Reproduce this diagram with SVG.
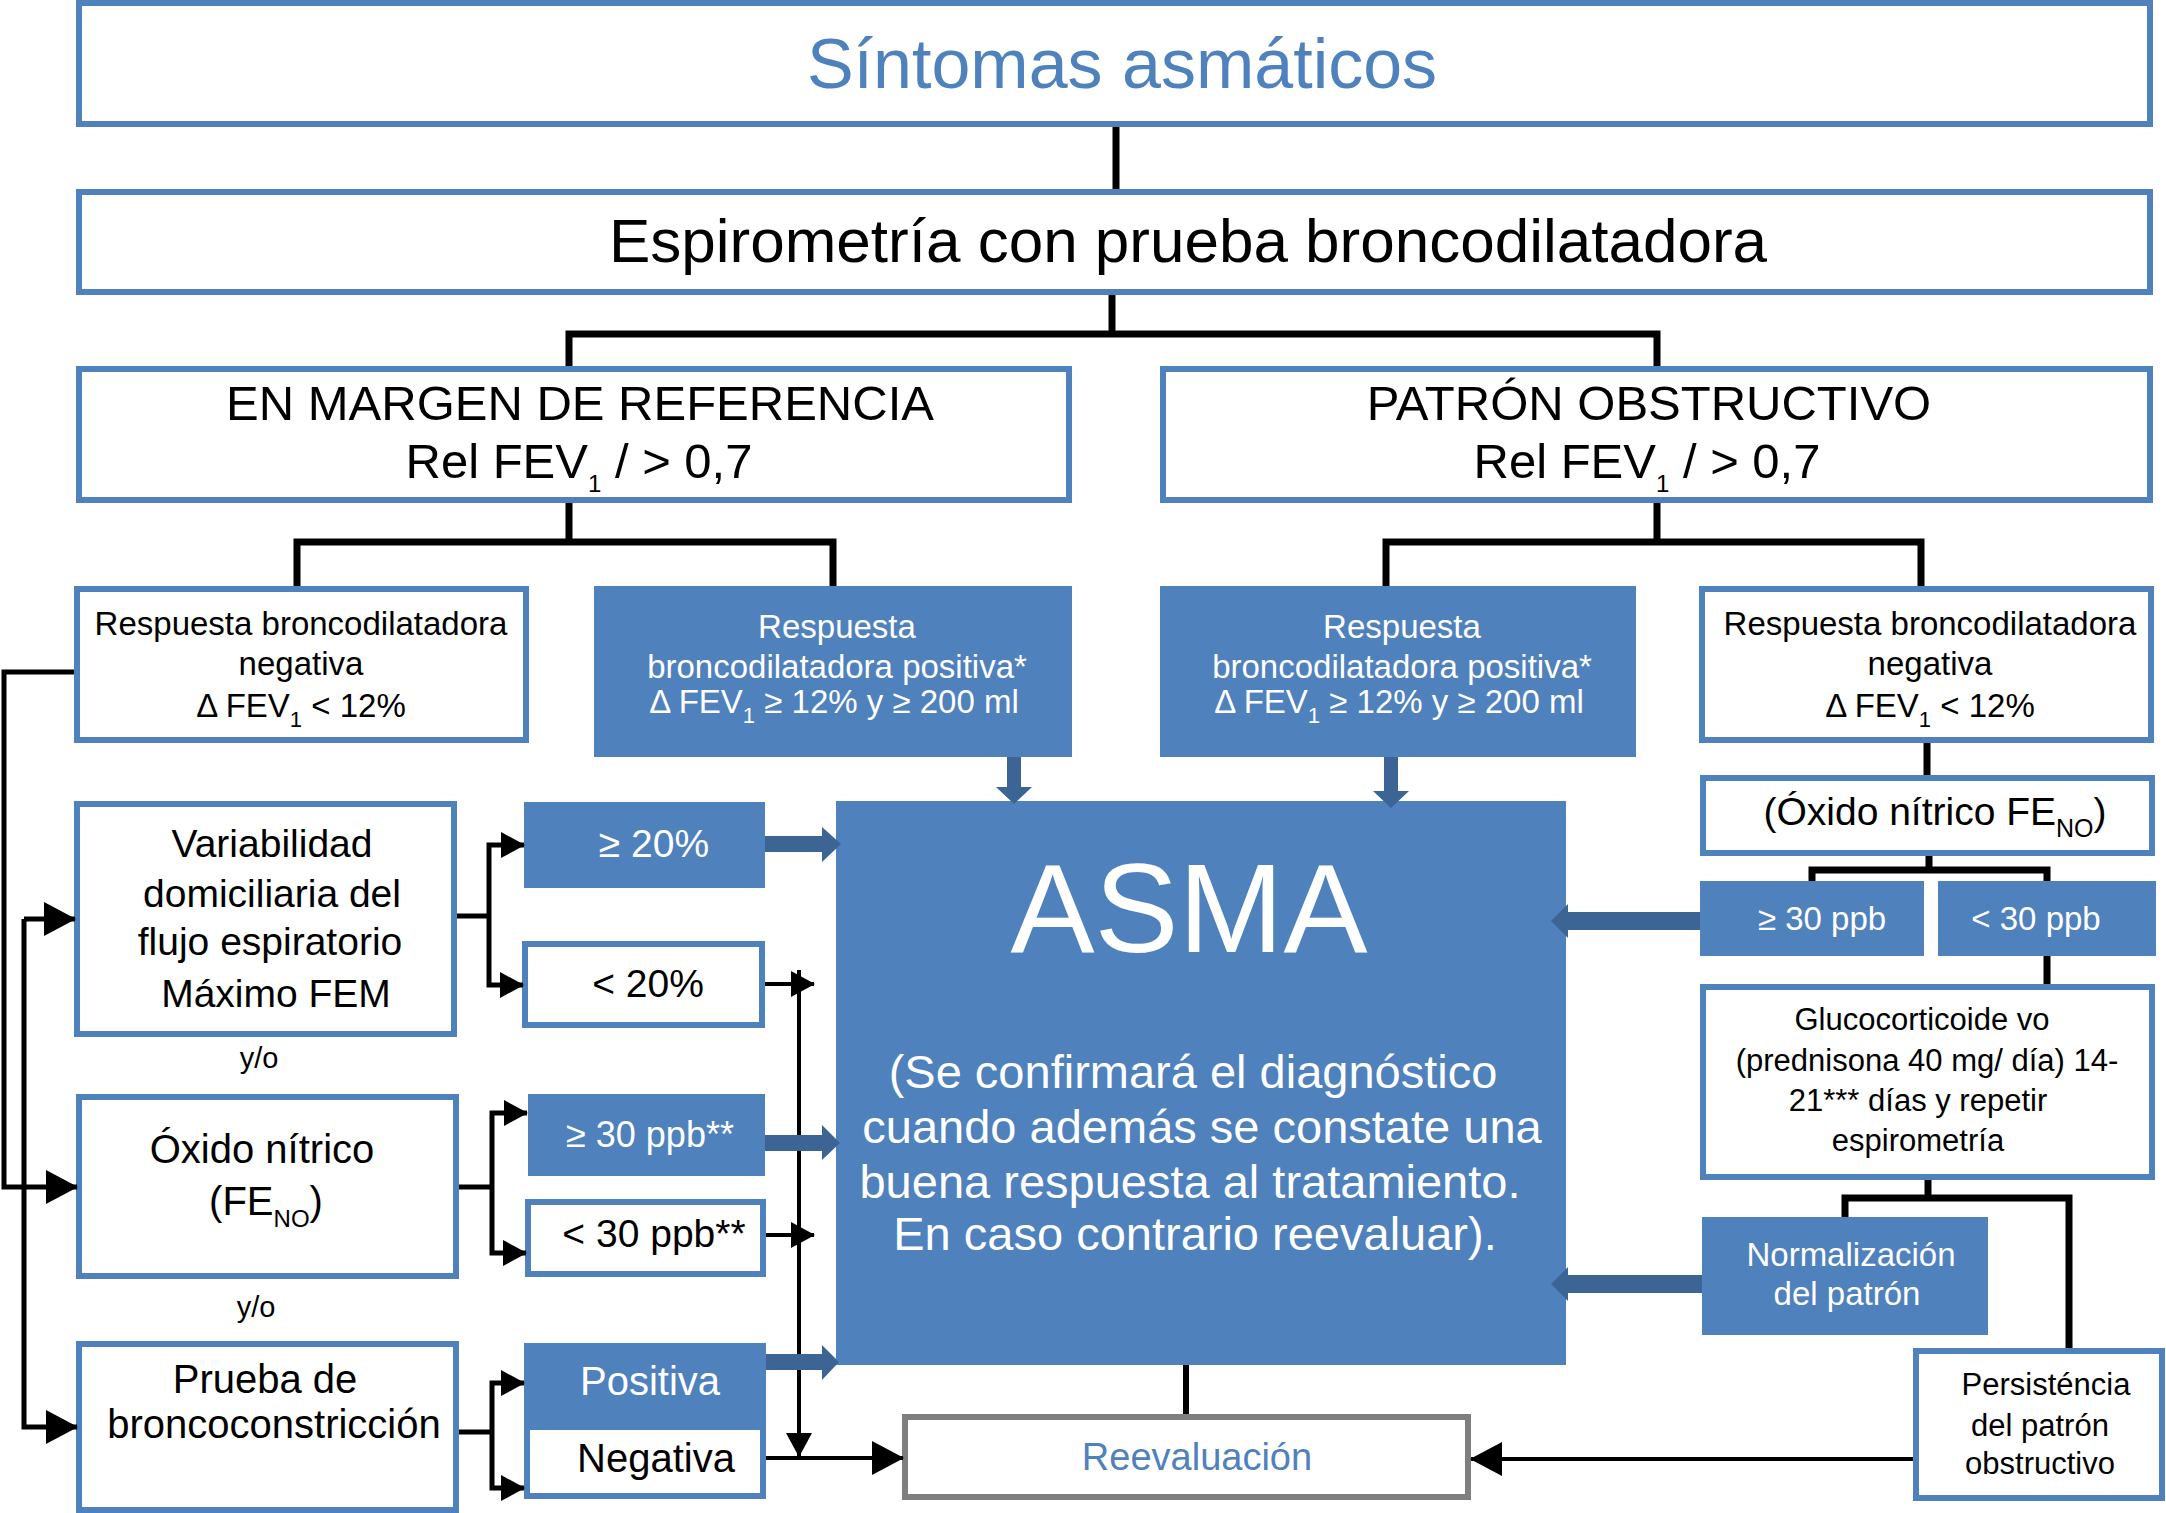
<svg xmlns="http://www.w3.org/2000/svg" width="2166" height="1513" viewBox="0 0 2166 1513">
<defs>
<style>
.bx{fill:#fff;stroke:#4f81bd;stroke-width:6}
.fb{fill:#4f81bd}
.gb{fill:#fff;stroke:#7f7f7f;stroke-width:6}
.t{font-family:"Liberation Sans",Arial,Helvetica,sans-serif;text-anchor:middle}
.k{fill:#000}
.w{fill:#fff}
.b{fill:#4f81bd}
.tree{fill:none;stroke:#000;stroke-width:7}
.ln{fill:none;stroke:#000;stroke-width:5}
.sl{fill:none;stroke:#000;stroke-width:4}
.ba{fill:#3c6494}
</style>
<marker id="ah" markerUnits="userSpaceOnUse" markerWidth="32" markerHeight="34" viewBox="0 0 32 34" refX="31" refY="17" orient="auto"><path d="M0,0L32,17L0,34z" fill="#000"/></marker>
<marker id="as" markerUnits="userSpaceOnUse" markerWidth="24" markerHeight="26" viewBox="0 0 24 26" refX="23" refY="13" orient="auto"><path d="M0,0L24,13L0,26z" fill="#000"/></marker>
</defs>
<rect width="2166" height="1513" fill="#fff"/>

<g id="n-sintomas"><rect class="bx" x="79" y="3" width="2071" height="121"/><text class="t b" x="1122" y="88" font-size="70">Síntomas asmáticos</text></g>
<g id="n-espirometria"><rect class="bx" x="79" y="192" width="2071" height="100"/><text class="t k" x="1188" y="262" font-size="62">Espirometría con prueba broncodilatadora</text></g>
<g id="n-margen"><rect class="bx" x="79" y="369" width="990" height="131"/><text class="t k" font-size="49"><tspan x="580" y="420">EN MARGEN DE REFERENCIA</tspan><tspan x="579" y="478">Rel FEV<tspan dy="14" font-size="24">1</tspan><tspan dy="-14"> / &gt; 0,7</tspan></tspan></text></g>
<g id="n-patron"><rect class="bx" x="1163" y="369" width="987" height="131"/><text class="t k" font-size="49"><tspan x="1649" y="420">PATRÓN OBSTRUCTIVO</tspan><tspan x="1647" y="478">Rel FEV<tspan dy="14" font-size="24">1</tspan><tspan dy="-14"> / &gt; 0,7</tspan></tspan></text></g>

<g id="n-neg-izq"><rect class="bx" x="77" y="589" width="449" height="151"/><text class="t k" font-size="33"><tspan x="301" y="635">Respuesta broncodilatadora</tspan><tspan x="301" y="675">negativa</tspan><tspan x="301" y="717">Δ FEV<tspan dy="10" font-size="22">1</tspan><tspan dy="-10"> &lt; 12%</tspan></tspan></text></g>
<g id="n-pos-izq"><rect class="fb" x="594" y="586" width="478" height="171"/><text class="t w" font-size="33"><tspan x="837" y="638">Respuesta</tspan><tspan x="837" y="678">broncodilatadora positiva*</tspan><tspan x="834" y="713">Δ FEV<tspan dy="10" font-size="22">1</tspan><tspan dy="-10"> ≥ 12% y ≥ 200 ml</tspan></tspan></text></g>
<g id="n-pos-der"><rect class="fb" x="1160" y="586" width="476" height="171"/><text class="t w" font-size="33"><tspan x="1402" y="638">Respuesta</tspan><tspan x="1402" y="678">broncodilatadora positiva*</tspan><tspan x="1399" y="713">Δ FEV<tspan dy="10" font-size="22">1</tspan><tspan dy="-10"> ≥ 12% y ≥ 200 ml</tspan></tspan></text></g>
<g id="n-neg-der"><rect class="bx" x="1702" y="589" width="449" height="151"/><text class="t k" font-size="33"><tspan x="1930" y="635">Respuesta broncodilatadora</tspan><tspan x="1930" y="675">negativa</tspan><tspan x="1930" y="717">Δ FEV<tspan dy="10" font-size="22">1</tspan><tspan dy="-10"> &lt; 12%</tspan></tspan></text></g>

<g id="n-variabilidad"><rect class="bx" x="77" y="804" width="377" height="230"/><text class="t k" font-size="39"><tspan x="272" y="857">Variabilidad</tspan><tspan x="272" y="907">domiciliaria del</tspan><tspan x="270" y="955">flujo espiratorio</tspan><tspan x="276" y="1007">Máximo FEM</tspan></text></g>
<text id="yo-1" class="t k" x="259" y="1068" font-size="29">y/o</text>
<g id="n-oxido-izq"><rect class="bx" x="79" y="1097" width="377" height="179"/><text class="t k" font-size="40"><tspan x="262" y="1163">Óxido nítrico</tspan><tspan x="266" y="1215">(FE<tspan dy="12" font-size="24">NO</tspan><tspan dy="-12">)</tspan></tspan></text></g>
<text id="yo-2" class="t k" x="256" y="1317" font-size="29">y/o</text>
<g id="n-prueba"><rect class="bx" x="79" y="1344" width="377" height="166"/><text class="t k" font-size="40"><tspan x="265" y="1393">Prueba de</tspan><tspan x="274" y="1438">broncoconstricción</tspan></text></g>

<g id="n-ge20"><rect class="fb" x="524" y="802" width="241" height="86"/><text class="t w" x="654" y="857" font-size="39">≥ 20%</text></g>
<g id="n-lt20"><rect class="bx" x="525" y="944" width="237" height="81"/><text class="t k" x="648" y="997" font-size="39">&lt; 20%</text></g>
<g id="n-ge30-izq"><rect class="fb" x="528" y="1094" width="237" height="82"/><text class="t w" x="650" y="1147" font-size="36">≥ 30 ppb**</text></g>
<g id="n-lt30-izq"><rect class="bx" x="528" y="1202" width="235" height="72"/><text class="t k" x="654" y="1247" font-size="39">&lt; 30 ppb**</text></g>
<g id="n-positiva"><rect class="fb" x="524" y="1343" width="242" height="83"/><text class="t w" x="650" y="1395" font-size="40">Positiva</text></g>
<g id="n-negativa"><rect class="bx" x="527" y="1427" width="236" height="69"/><text class="t k" x="656" y="1472" font-size="40">Negativa</text></g>

<g id="n-asma"><rect class="fb" x="836" y="801" width="730" height="564"/><text class="t w" x="1189" y="952" font-size="126">ASMA</text><text class="t w" font-size="47"><tspan x="1193" y="1088">(Se confirmará el diagnóstico</tspan><tspan x="1202" y="1143">cuando además se constate una</tspan><tspan x="1190" y="1198">buena respuesta al tratamiento.</tspan><tspan x="1195" y="1250">En caso contrario reevaluar).</tspan></text></g>
<g id="n-reevaluacion"><rect class="gb" x="905" y="1417" width="563" height="80"/><text class="t b" x="1197" y="1470" font-size="38">Reevaluación</text></g>

<g id="n-oxido-der"><rect class="bx" x="1703" y="778" width="449" height="75"/><text class="t k" x="1935" y="825" font-size="39">(Óxido nítrico FE<tspan dy="12" font-size="25">NO</tspan><tspan dy="-12">)</tspan></text></g>
<g id="n-ge30-der"><rect class="fb" x="1700" y="881" width="224" height="75"/><text class="t w" x="1822" y="930" font-size="33">≥ 30 ppb</text></g>
<g id="n-lt30-der"><rect class="fb" x="1938" y="881" width="218" height="75"/><text class="t w" x="2036" y="930" font-size="33">&lt; 30 ppb</text></g>
<g id="n-gluco"><rect class="bx" x="1703" y="987" width="449" height="190"/><text class="t k" font-size="31"><tspan x="1922" y="1030">Glucocorticoide vo</tspan><tspan x="1927" y="1071">(prednisona 40 mg/ día) 14-</tspan><tspan x="1918" y="1111">21*** días y repetir</tspan><tspan x="1918" y="1151">espirometría</tspan></text></g>
<g id="n-normalizacion"><rect class="fb" x="1702" y="1217" width="286" height="118"/><text class="t w" font-size="33"><tspan x="1851" y="1266">Normalización</tspan><tspan x="1847" y="1305">del patrón</tspan></text></g>
<g id="n-persistencia"><rect class="bx" x="1916" y="1351" width="246" height="147"/><text class="t k" font-size="31"><tspan x="2046" y="1395">Persisténcia</tspan><tspan x="2040" y="1436">del patrón</tspan><tspan x="2040" y="1474">obstructivo</tspan></text></g>

<g id="connectors">
<path class="tree" d="M1116,127V189"/>
<path class="tree" d="M1112,295V334M569,366V334H1657V366"/>
<path class="tree" d="M569,503V542M297,586V542H833V586"/>
<path class="tree" d="M1657,503V542M1386,586V542H1921V586"/>
<path class="tree" d="M1927,743V775"/>
<path class="tree" d="M1929,856V870M1812,881V870H2047V881"/>
<path class="tree" d="M2047,956V984"/>
<path class="tree" d="M1928,1180V1198M1845,1217V1198H2069V1348"/>
<path class="tree" style="stroke-width:6" d="M1186,1365V1414"/>
<path class="ln" d="M74,672H4V1187H77" marker-end="url(#ah)"/>
<path class="ln" d="M24,919H75" marker-end="url(#ah)"/>
<path class="ln" d="M24,919V1427H77" marker-end="url(#ah)"/>
<path class="ln" d="M457,916H489"/>
<path class="ln" d="M489,916V845H524" marker-end="url(#as)"/>
<path class="ln" d="M489,916V985H523" marker-end="url(#as)"/>
<path class="ln" d="M459,1187H492"/>
<path class="ln" d="M492,1187V1113H527" marker-end="url(#as)"/>
<path class="ln" d="M492,1187V1253H526" marker-end="url(#as)"/>
<path class="ln" d="M459,1432H492"/>
<path class="ln" d="M492,1432V1383H524" marker-end="url(#as)"/>
<path class="ln" d="M492,1432V1488H524" marker-end="url(#as)"/>
<path class="sl" d="M765,984H814" marker-end="url(#as)"/>
<path class="sl" d="M799,970V1456" marker-end="url(#as)"/>
<path class="sl" d="M766,1235H814" marker-end="url(#as)"/>
<path class="sl" d="M766,1458H903" marker-end="url(#ah)"/>
<path class="sl" d="M1913,1459H1471" marker-end="url(#ah)"/>
<polygon class="ba" points="1007,757 1021,757 1021,787 1032,787 1014,804 996,787 1007,787"/>
<polygon class="ba" points="1384,757 1398,757 1398,791 1409,791 1391,808 1373,791 1384,791"/>
<polygon class="ba" points="765,836 822,836 822,827 841,844 822,862 822,852 765,852"/>
<polygon class="ba" points="765,1135 822,1135 822,1125 840,1143 822,1160 822,1151 765,1151"/>
<polygon class="ba" points="766,1354 822,1354 822,1345 839,1362 822,1380 822,1370 766,1370"/>
<polygon class="ba" points="1700,912 1568,912 1568,904 1551,921 1568,938 1568,930 1700,930"/>
<polygon class="ba" points="1702,1275 1568,1275 1568,1267 1551,1284 1568,1301 1568,1293 1702,1293"/>
</g>
</svg>
